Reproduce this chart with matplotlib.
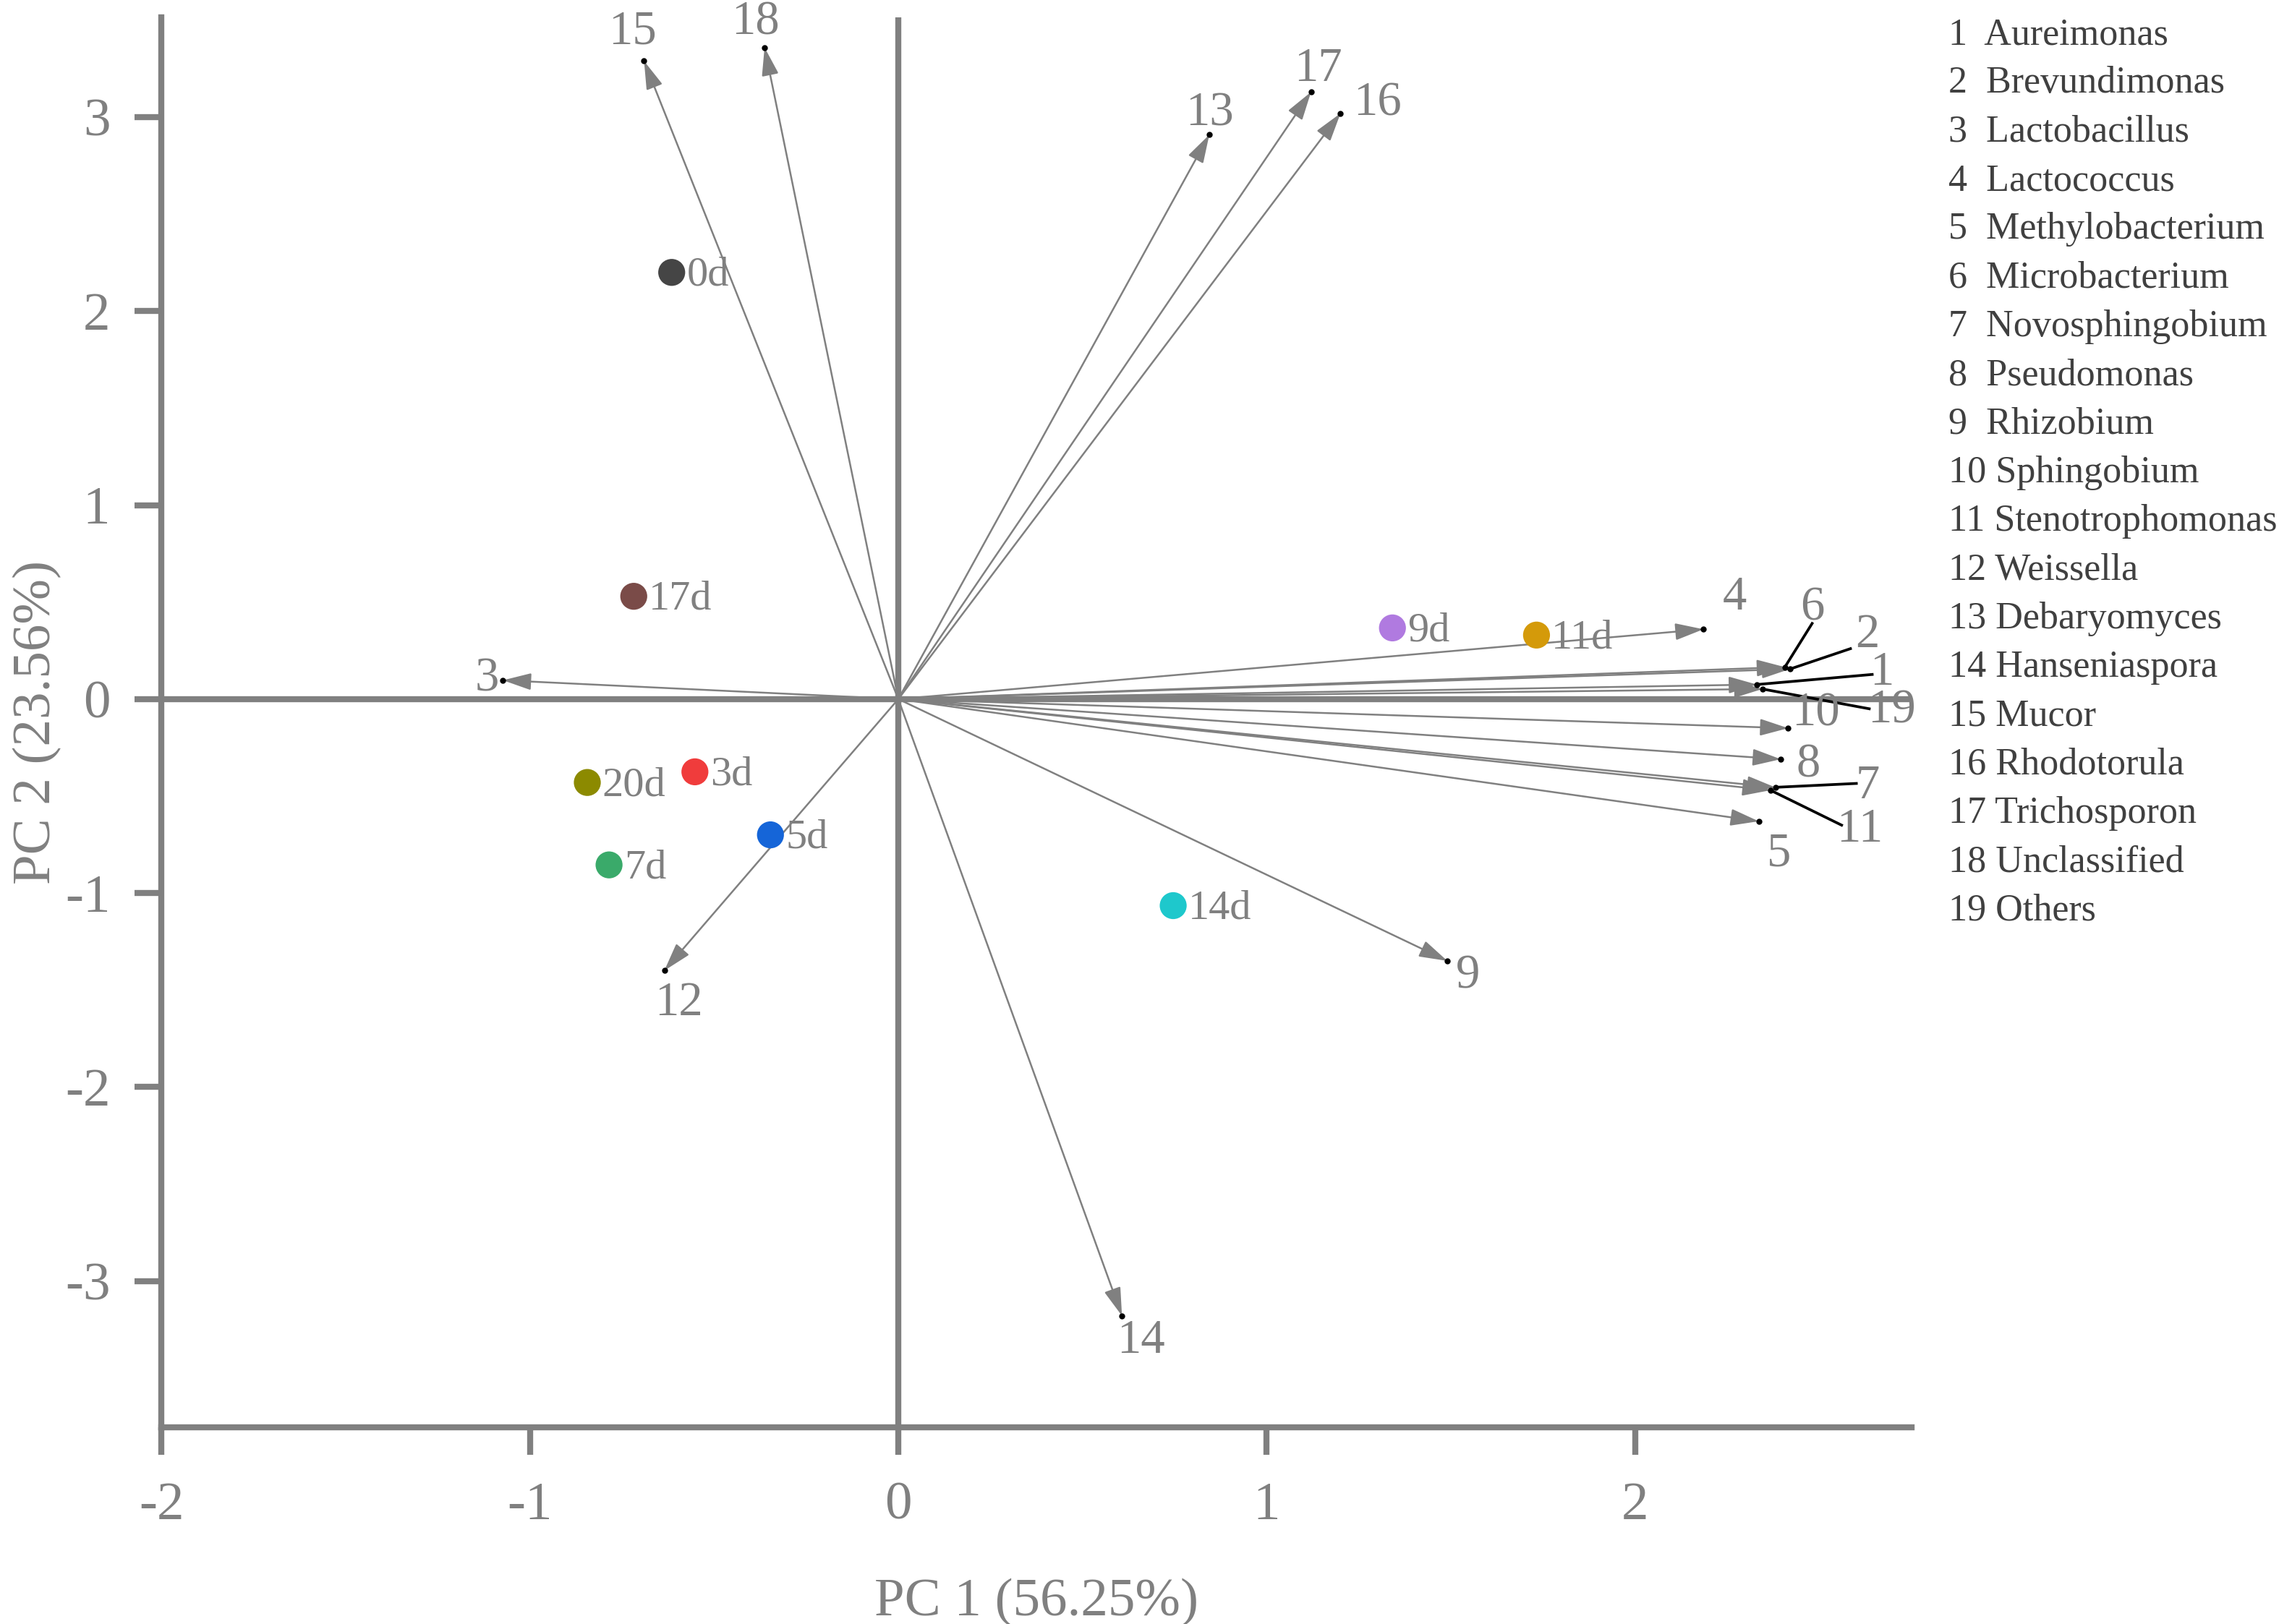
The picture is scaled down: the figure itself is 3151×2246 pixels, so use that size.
import matplotlib
matplotlib.use('Agg')
import matplotlib.pyplot as plt
import numpy as np

plt.rcParams['font.family'] = ['Liberation Serif', 'DejaVu Serif']
plt.rcParams['axes.unicode_minus'] = False

# ==========================================
# data
# ==========================================
# sample scores
samples = ['0d', '3d', '5d', '7d', '9d', '11d', '14d', '17d', '20d']
pc1 = [-0.615, -0.552, -0.347, -0.785, 1.341, 1.732, 0.746, -0.718, -0.844]
pc2 = [2.20, -0.375, -0.70, -0.855, 0.367, 0.33, -1.065, 0.53, -0.43]
sample_colors = ['#454545', '#f03c3c', '#1565d8', '#3aaa6a', '#b07ae0',
                 '#d49a0a', '#1ec8cc', '#7a4b48', '#8c8a00']

# genus loadings (arrow tips)
genera = ['Aureimonas', 'Brevundimonas', 'Lactobacillus', 'Lactococcus',
          'Methylobacterium', 'Microbacterium', 'Novosphingobium', 'Pseudomonas',
          'Rhizobium', 'Sphingobium', 'Stenotrophomonas', 'Weissella',
          'Debaryomyces', 'Hanseniaspora', 'Mucor', 'Rhodotorula',
          'Trichosporon', 'Unclassified', 'Others']
load_x = [2.33, 2.42, -1.073, 2.185, 2.335, 2.406, 2.38, 2.395, 1.49, 2.415,
          2.367, -0.635, 0.844, 0.607, -0.69, 1.20, 1.12, -0.363, 2.345]
load_y = [0.075, 0.155, 0.097, 0.36, -0.63, 0.165, -0.455, -0.31, -1.35, -0.15,
          -0.47, -1.40, 2.91, -3.18, 3.29, 3.02, 3.13, 3.36, 0.052]

# where each arrow number sits
lab_x = [2.67, 2.63, -1.116, 2.27, 2.39, 2.48, 2.63, 2.47, 1.546, 2.49,
         2.61, -0.596, 0.844, 0.659, -0.722, 1.30, 1.14, -0.387, 2.695]
lab_y = [0.135, 0.33, 0.105, 0.525, -0.80, 0.47, -0.45, -0.34, -1.43, -0.075,
         -0.675, -1.567, 3.02, -3.31, 3.44, 3.07, 3.25, 3.49, -0.06]

# black leader lines for crowded labels: genus number -> line end
leaders = {1: (2.643, 0.127), 2: (2.584, 0.26), 6: (2.48, 0.39),
           19: (2.635, -0.05), 7: (2.60, -0.435), 11: (2.56, -0.65)}

gray = '#808080'

# ==========================================
# figure
# ==========================================
fig = plt.figure(figsize=(3151 / 300, 2246 / 300), dpi=300)
ax = fig.add_axes([0.0708, 0.1211, 0.768, 0.8682])

ax.set_xlim(-2, 2.75)
ax.set_ylim(-3.755, 3.515)

for side in ['top', 'right']:
    ax.spines[side].set_visible(False)
for side in ['left', 'bottom']:
    ax.spines[side].set_color(gray)
    ax.spines[side].set_linewidth(2)

ax.axhline(0, color=gray, lw=2, zorder=1)
ax.axvline(0, color=gray, lw=2, zorder=1)

ax.set_xticks([-2, -1, 0, 1, 2])
ax.set_yticks([-3, -2, -1, 0, 1, 2, 3])
ax.tick_params(axis='both', direction='out', length=9, width=2, color=gray,
               labelcolor=gray, labelsize=18)
ax.tick_params(axis='x', pad=9)
ax.tick_params(axis='y', pad=8)

ax.set_xlabel('PC 1 (56.25%)', fontsize=18, color=gray, labelpad=16)
ax.set_ylabel('PC 2 (23.56%)', fontsize=18, color=gray, labelpad=1)

# loading arrows
for i in range(len(genera)):
    ax.annotate('', xy=(load_x[i], load_y[i]), xytext=(0, 0),
                arrowprops=dict(arrowstyle='-|>,head_length=0.4,head_width=0.12',
                                mutation_scale=20, color=gray, lw=0.6,
                                shrinkA=0, shrinkB=0), zorder=2)
ax.plot(load_x, load_y, 'o', color='black', markersize=1.0, zorder=3)

for k, (ex, ey) in leaders.items():
    ax.plot([load_x[k - 1], ex], [load_y[k - 1], ey], color='black', lw=0.9, zorder=3)

for i in range(len(genera)):
    ax.text(lab_x[i], lab_y[i], str(i + 1), fontsize=16, color=gray,
            ha='center', va='center', zorder=4)

# sample points
ax.scatter(pc1, pc2, s=80, c=sample_colors, zorder=5, linewidths=0)
for i, name in enumerate(samples):
    ax.annotate(name, (pc1[i], pc2[i]), xytext=(5, -1), textcoords='offset points',
                fontsize=14, color=gray, va='center', ha='left', zorder=6)

# genus key on the right
for i, name in enumerate(genera):
    num = str(i + 1)
    sep = '  ' if i < 9 else ' '
    fig.text(0.855, 0.9786 - i * 0.02997, num + sep + name, fontsize=12.5,
             color='#404040', ha='left', va='center')

fig.savefig('out.png', dpi=300, facecolor='white')
